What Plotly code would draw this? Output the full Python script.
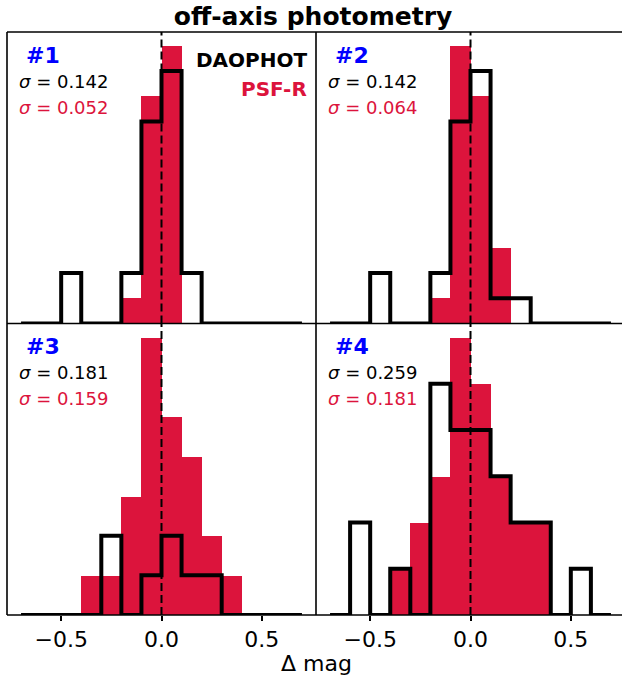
import plotly.graph_objects as go
from plotly.subplots import make_subplots

# histogram bins (delta mag)
BIN_EDGES = [-0.7, -0.6, -0.5, -0.4, -0.3, -0.2, -0.1, 0.0,
             0.1, 0.2, 0.3, 0.4, 0.5, 0.6, 0.7]

# counts per bin
DAOPHOT_1 = [0, 0, 2, 0, 0, 2, 8, 10, 2, 0, 0, 0, 0, 0]
PSFR_1 = [0, 0, 0, 0, 0, 1, 9, 11, 0, 0, 0, 0, 0, 0]
DAOPHOT_2 = [0, 0, 2, 0, 0, 2, 8, 10, 1, 1, 0, 0, 0, 0]
PSFR_2 = [0, 0, 0, 0, 0, 1, 11, 9, 3, 0, 0, 0, 0, 0]
DAOPHOT_3 = [0, 0, 0, 0, 2, 0, 1, 2, 1, 1, 0, 0, 0, 0]
PSFR_3 = [0, 0, 0, 1, 1, 3, 7, 5, 4, 2, 1, 0, 0, 0]
DAOPHOT_4 = [0, 2, 0, 1, 0, 5, 4, 4, 3, 2, 2, 0, 1, 0]
PSFR_4 = [0, 0, 0, 1, 2, 3, 6, 5, 3, 2, 2, 0, 0, 0]

PANEL_LABELS = ["#1", "#2", "#3", "#4"]
SIGMA_DAOPHOT = [0.142, 0.142, 0.181, 0.259]
SIGMA_PSFR = [0.052, 0.064, 0.159, 0.181]
X_TICKS = [-0.5, 0.0, 0.5]

DAOPHOT = [DAOPHOT_1, DAOPHOT_2, DAOPHOT_3, DAOPHOT_4]
PSFR = [PSFR_1, PSFR_2, PSFR_3, PSFR_4]

RED = "#DC143C"
BLUE = "#0000FF"
FONT = "DejaVu Sans"

W, H = 622, 682
ML, MR, MT, MB = 7, 0, 32, 682 - 615
PLOT_W = W - ML - MR
LEFT_W = 316 - ML
SPLIT = LEFT_W / PLOT_W

fig = make_subplots(rows=2, cols=2, horizontal_spacing=0, vertical_spacing=0)

centers = [(a + b) / 2 for a, b in zip(BIN_EDGES[:-1], BIN_EDGES[1:])]
widths = [b - a for a, b in zip(BIN_EDGES[:-1], BIN_EDGES[1:])]

for i in range(4):
    row, col = i // 2 + 1, i % 2 + 1
    fig.add_trace(go.Bar(
        x=centers, y=PSFR[i], width=widths,
        marker=dict(color=RED, line=dict(width=0)),
        showlegend=False, hoverinfo="skip",
    ), row=row, col=col)
    # step outline like matplotlib histtype='step'
    fig.add_trace(go.Scatter(
        x=[BIN_EDGES[0]] + BIN_EDGES,
        y=[0] + DAOPHOT[i] + [0],
        mode="lines", line=dict(color="black", width=4, shape="hv"),
        showlegend=False, hoverinfo="skip",
    ), row=row, col=col)

    ymax = max(max(PSFR[i]), max(DAOPHOT[i])) * 1.05
    fig.update_yaxes(range=[0, ymax], showticklabels=False, ticks="",
                     showgrid=False, zeroline=False, showline=False,
                     row=row, col=col)

    sfx = "" if i == 0 else str(i + 1)
    xd, yd = f"x{sfx} domain", f"y{sfx} domain"

    fig.add_shape(type="line", xref=f"x{sfx}", yref=yd, x0=0, x1=0, y0=0, y1=1,
                  line=dict(color="black", width=2, dash="8px,4px"), layer="above")

    fig.add_annotation(xref=xd, yref=yd, x=0, y=1, xanchor="left", yanchor="middle",
                       xshift=17, yshift=-23, showarrow=False,
                       text=f"<b>{PANEL_LABELS[i]}</b>",
                       font=dict(family=FONT, size=22, color=BLUE))
    fig.add_annotation(xref=xd, yref=yd, x=0, y=1, xanchor="left", yanchor="middle",
                       xshift=10, yshift=-49, showarrow=False,
                       text=f"<i>σ</i> = {SIGMA_DAOPHOT[i]:.3f}",
                       font=dict(family=FONT, size=18, color="black"))
    fig.add_annotation(xref=xd, yref=yd, x=0, y=1, xanchor="left", yanchor="middle",
                       xshift=10, yshift=-75, showarrow=False,
                       text=f"<i>σ</i> = {SIGMA_PSFR[i]:.3f}",
                       font=dict(family=FONT, size=18, color=RED))

# legend-like labels in panel 1
fig.add_annotation(xref="x domain", yref="y domain", x=1, y=1, xanchor="right",
                   yanchor="middle", xshift=-7, yshift=-28, showarrow=False,
                   text="<b>DAOPHOT</b>", font=dict(family=FONT, size=20, color="black"))
fig.add_annotation(xref="x domain", yref="y domain", x=1, y=1, xanchor="right",
                   yanchor="middle", xshift=-7, yshift=-57, showarrow=False,
                   text="<b>PSF-R</b>", font=dict(family=FONT, size=20, color=RED))

# x axes: ~200 px per unit, right column clipped by the figure edge
PX_PER_UNIT = LEFT_W / 1.54
left_rng = [-0.77, 0.77]
right_rng = [-0.77, -0.77 + (PLOT_W - LEFT_W) / PX_PER_UNIT]
for i in range(4):
    row, col = i // 2 + 1, i % 2 + 1
    dom = [0, SPLIT] if col == 1 else [SPLIT, 1]
    rng = left_rng if col == 1 else right_rng
    bottom = row == 2
    fig.update_xaxes(domain=dom, range=rng, showgrid=False, zeroline=False,
                     showline=False, tickvals=X_TICKS, tickformat=".1f",
                     showticklabels=bottom, ticks="outside" if bottom else "",
                     ticklen=5, tickwidth=1.5, tickcolor="black",
                     tickfont=dict(family=FONT, size=22, color="black"),
                     row=row, col=col)

# panel frames
frame = dict(color="black", width=1.6)
for yy in [0, 0.5, 1]:
    fig.add_shape(type="line", xref="paper", yref="paper", x0=0, x1=1, y0=yy, y1=yy,
                  line=frame, layer="above")
for xx in [0, SPLIT]:
    fig.add_shape(type="line", xref="paper", yref="paper", x0=xx, x1=xx, y0=0, y1=1,
                  line=frame, layer="above")

fig.add_annotation(xref="paper", yref="paper", x=SPLIT, y=0,
                   xanchor="center", yanchor="middle", yshift=-(663 - 615),
                   showarrow=False, text="Δ mag",
                   font=dict(family=FONT, size=22, color="black"))

fig.update_layout(
    width=W, height=H,
    margin=dict(l=ML, r=MR, t=MT, b=MB),
    barmode="overlay", bargap=0,
    plot_bgcolor="white", paper_bgcolor="white",
    title=dict(text="<b>off-axis photometry</b>", x=313 / W, xanchor="center",
               y=1 - 16 / H, yanchor="middle", yref="container",
               font=dict(family=FONT, size=25, color="black")),
    font=dict(family=FONT),
)

# drop the default 8px page margin so the figure sits at the window corner
fig.write_html(
    "out.html",
    config={"displayModeBar": False},
    post_script="document.body.style.margin = '0'; document.body.style.overflow = 'hidden';",
)
